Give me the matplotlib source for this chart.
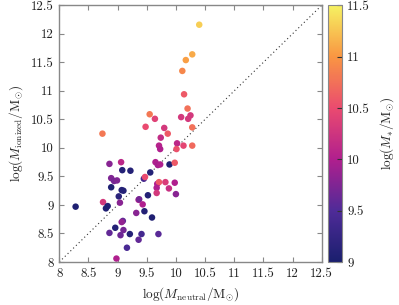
import matplotlib
matplotlib.use("Agg")
import matplotlib.pyplot as plt
from matplotlib.colors import LinearSegmentedColormap
import numpy as np

plt.rcParams['font.family'] = 'serif'
plt.rcParams['font.serif'] = ['cmr10', 'DejaVu Serif']
plt.rcParams['mathtext.fontset'] = 'cm'
plt.rcParams['axes.formatter.use_mathtext'] = True

# log neutral mass, log ionized mass, log stellar mass
log_m_neutral = [10.40, 10.28, 10.17, 10.11, 10.14, 10.20, 9.55, 9.64, 10.09, 10.25,
                 10.21, 9.48, 9.80, 10.28, 8.74, 9.86, 9.74, 9.71, 10.02, 10.13,
                 10.28, 9.73, 10.01, 8.86, 9.06, 9.65, 9.69, 9.73, 9.89, 9.98,
                 9.08, 9.22, 9.56, 9.45, 9.47, 9.68, 9.71, 9.82, 9.98, 8.89,
                 8.94, 8.99, 8.89, 9.67, 9.88, 10.00, 9.07, 9.10, 9.67, 9.02,
                 9.52, 9.36, 9.37, 9.43, 8.75, 9.04, 8.28, 8.83, 8.80, 9.32,
                 9.46, 9.59, 9.09, 9.07, 8.96, 9.10, 8.86, 9.05, 9.21, 9.41,
                 9.70, 9.36, 9.16, 8.98]
log_m_ionized = [12.16, 11.64, 11.54, 11.35, 10.94, 10.69, 10.59, 10.51, 10.54, 10.57,
                 10.51, 10.37, 10.35, 10.36, 10.25, 10.25, 10.18, 10.04, 10.08, 10.04,
                 10.04, 9.98, 9.98, 9.72, 9.75, 9.75, 9.70, 9.71, 9.71, 9.74,
                 9.61, 9.60, 9.57, 9.46, 9.49, 9.37, 9.40, 9.40, 9.39, 9.47,
                 9.42, 9.43, 9.31, 9.30, 9.29, 9.19, 9.26, 9.25, 9.21, 9.15,
                 9.17, 9.09, 9.10, 9.01, 9.05, 9.04, 8.97, 8.98, 8.94, 8.86,
                 8.89, 8.78, 8.72, 8.70, 8.60, 8.56, 8.51, 8.47, 8.49, 8.49,
                 8.49, 8.39, 8.25, 8.06]
log_m_star = [11.30, 11.10, 11.05, 10.90, 10.60, 10.75, 10.80, 10.40, 10.30, 10.30,
              10.30, 10.50, 10.30, 10.75, 10.80, 10.60, 10.15, 10.05, 10.10, 10.45,
              10.70, 10.00, 10.55, 9.80, 10.10, 10.00, 9.95, 10.00, 9.05, 10.60,
              9.10, 9.10, 9.10, 9.40, 10.50, 10.00, 10.60, 10.35, 10.00, 9.75,
              9.70, 9.75, 9.05, 10.00, 10.20, 9.80, 9.10, 9.10, 10.30, 9.15,
              9.10, 10.00, 9.70, 10.00, 10.30, 9.80, 9.05, 9.10, 9.05, 9.80,
              9.10, 9.05, 9.60, 9.85, 9.10, 9.70, 9.60, 9.65, 9.10, 9.40,
              9.55, 9.60, 9.45, 10.00]

ticks = [8, 8.5, 9, 9.5, 10, 10.5, 11, 11.5, 12, 12.5]
tick_labels = ['8', '8.5', '9', '9.5', '10', '10.5', '11', '11.5', '12', '12.5']
cbar_ticks = [9, 9.5, 10, 10.5, 11, 11.5]
cbar_labels = ['9', '9.5', '10', '10.5', '11', '11.5']

cmap = LinearSegmentedColormap.from_list(
    'navy_plasma',
    [(0.0, '#1a1f6e'), (0.2, '#4f2b98'), (0.4, '#b01f8e'),
     (0.6, '#ea4a70'), (0.8, '#f99642'), (1.0, '#f6f262')])

fig = plt.figure(figsize=(3.99, 3.05), dpi=100)
ax = fig.add_axes([0.1486, 0.141, 0.6576, 0.8416])
cax = fig.add_axes([0.822, 0.141, 0.0343, 0.8416])

ax.plot([8, 12.5], [8, 12.5], ls=(0, (1, 2.5)), color='#333333', lw=0.8, zorder=1)
sc = ax.scatter(log_m_neutral, log_m_ionized, c=log_m_star, cmap=cmap,
                vmin=9, vmax=11.5, s=22, edgecolors='none', zorder=2)

ax.set_xlim(8, 12.5)
ax.set_ylim(8, 12.5)
ax.set_xticks(ticks)
ax.set_xticklabels(tick_labels)
ax.set_yticks(ticks)
ax.set_yticklabels(tick_labels)
ax.tick_params(direction='in', top=True, right=True, length=3.5, width=0.8,
               color='#888888', labelsize=9.3, labelcolor='#222222', pad=4)
for sp in ax.spines.values():
    sp.set_color('#888888')
    sp.set_linewidth(1.0)

ax.set_xlabel(r'$\log(M_\mathrm{neutral}/\mathrm{M}_{\odot})$', fontsize=9.5, color='#222222', labelpad=4)
ax.set_ylabel(r'$\log(M_\mathrm{ionized}/\mathrm{M}_{\odot})$', fontsize=9.5, color='#222222', labelpad=4)

cb = fig.colorbar(sc, cax=cax)
cb.set_ticks(cbar_ticks)
cb.set_ticklabels(cbar_labels)
cb.ax.tick_params(direction='in', length=3.5, width=0.8, color='#333333',
                  labelsize=9.3, labelcolor='#222222', pad=4)
cb.outline.set_edgecolor('#888888')
cb.set_label(r'$\log(M_{*}/\mathrm{M}_{\odot})$', fontsize=9.5, color='#222222', labelpad=6)

fig.savefig('out.png', dpi=100)
